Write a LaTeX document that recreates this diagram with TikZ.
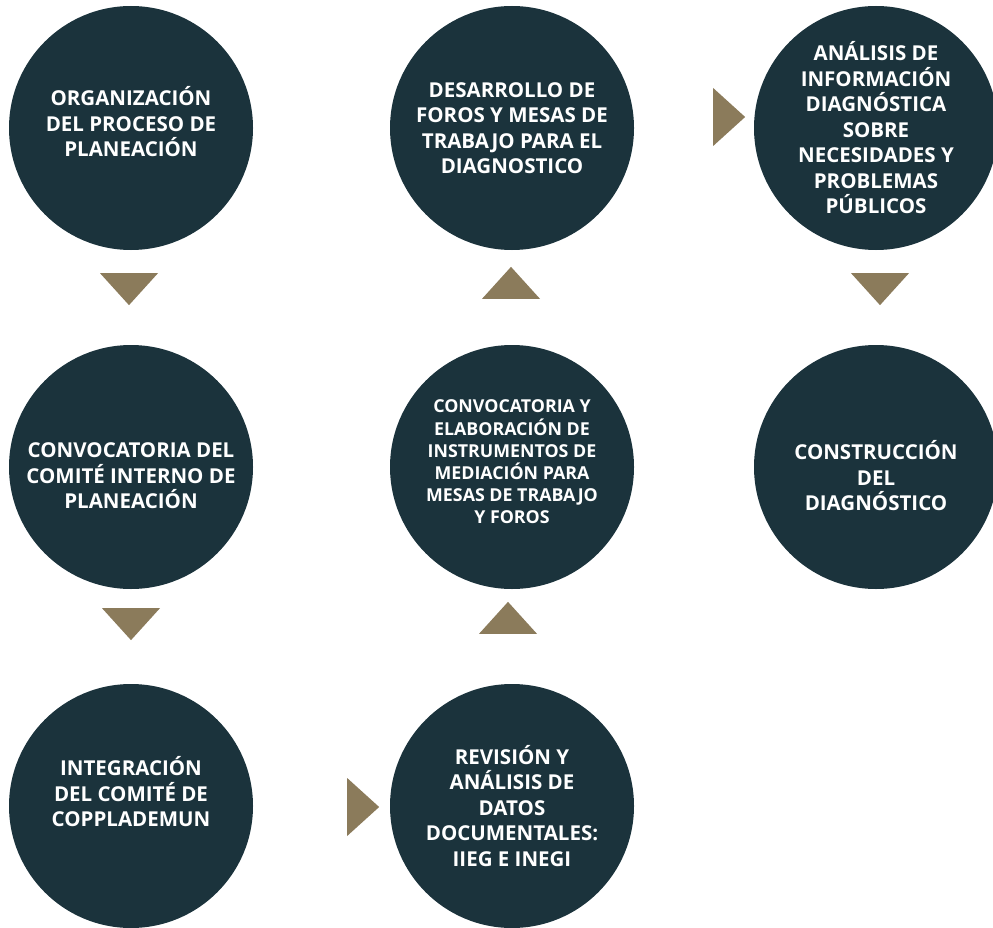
\documentclass[tikz,border=0pt]{standalone}
\usepackage{fontspec}
\setmainfont{Open Sans}
\usetikzlibrary{shapes.geometric,positioning}
\definecolor{stagefill}{HTML}{1B333C}
\definecolor{arrowfill}{HTML}{8B7B5B}
\tikzset{
  stage/.style={
    shape=circle,
    fill=stagefill,
    minimum size=244pt,
    inner sep=0pt
  },
  stage text/.style={
    text=white,
    align=center,
    font=\bfseries\fontsize{20.5}{25.5}\selectfont
  },
  small stage text/.style={
    text=white,
    align=center,
    font=\bfseries\fontsize{17.8}{22.2}\selectfont
  },
  flow arrow/.style={
    shape=isosceles triangle,
    isosceles triangle stretches,
    fill=arrowfill,
    inner sep=0pt,
    outer sep=0pt,
    minimum width=58pt,
    minimum height=32pt,
    shape border rotate=#1
  },
  down arrow/.style={flow arrow=270},
  up arrow/.style={flow arrow=90},
  right arrow/.style={flow arrow=0}
}

\begin{document}
\begin{tikzpicture}[x=1pt,y=-1pt]
  \useasboundingbox (0,0) rectangle (993,928);
  % circles
  \node[stage] (organizacion) at (131,128) {};
  \node[stage] (foros) at (512,128) {};
  \node[stage] (analisis) at (876,128) {};
  \node[stage] (convocatoria) at (131,467) {};
  \node[stage] (instrumentos) at (512,467) {};
  \node[stage] (construccion) at (876,467) {};
  \node[stage] (integracion) at (131,806) {};
  \node[stage] (revision) at (512,806) {};
  % texts
  \node[stage text] (organizacion text) at ([yshift=6pt]organizacion.center)
    {ORGANIZACIÓN\\DEL PROCESO DE\\PLANEACIÓN};
  \node[stage text] (foros text) at (foros.center)
    {DESARROLLO DE\\FOROS Y MESAS DE\\TRABAJO PARA EL\\DIAGNOSTICO};
  \node[stage text] (analisis text) at (analisis.center)
    {ANÁLISIS DE\\INFORMACIÓN\\DIAGNÓSTICA\\SOBRE\\NECESIDADES Y\\PROBLEMAS\\PÚBLICOS};
  \node[stage text] (convocatoria text) at ([yshift=-9pt]convocatoria.center)
    {CONVOCATORIA DEL\\COMITÉ INTERNO DE\\PLANEACIÓN};
  \node[small stage text] (instrumentos text) at ([yshift=5pt]instrumentos.center)
    {CONVOCATORIA Y\\ELABORACIÓN DE\\INSTRUMENTOS DE\\MEDIACIÓN PARA\\MESAS DE TRABAJO\\Y FOROS};
  \node[stage text] (construccion text) at ([yshift=-9pt]construccion.center)
    {CONSTRUCCIÓN\\DEL\\DIAGNÓSTICO};
  \node[stage text] (integracion text) at ([yshift=14pt]integracion.center)
    {INTEGRACIÓN\\DEL COMITÉ DE\\COPPLADEMUN};
  \node[stage text] (revision text) at (revision.center)
    {REVISIÓN Y\\ANÁLISIS DE\\DATOS\\DOCUMENTALES:\\IIEG E INEGI};
  % arrows
  \node[down arrow] (arrow 1) at (129,286) {};
  \node[down arrow] (arrow 2) at (131,621) {};
  \node[right arrow] (arrow 3) at (360,807) {};
  \node[up arrow] (arrow 4) at (508,621) {};
  \node[up arrow] (arrow 5) at (511,286) {};
  \node[right arrow] (arrow 6) at (726,117) {};
  \node[down arrow] (arrow 7) at (880,286) {};
\end{tikzpicture}
\end{document}
